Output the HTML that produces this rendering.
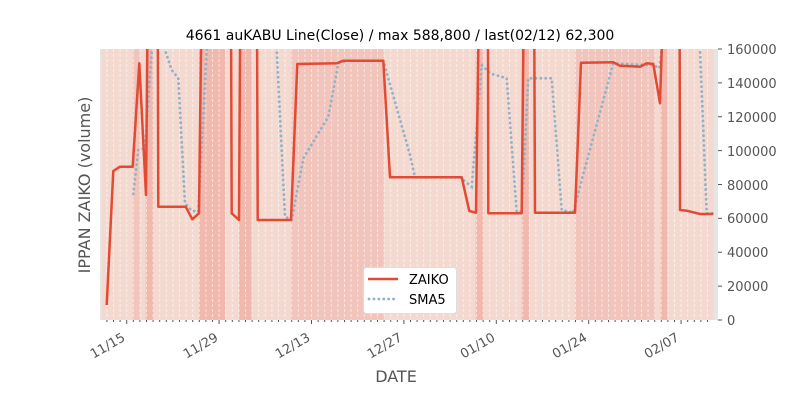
<!DOCTYPE html>
<html><head><meta charset="utf-8"><style>
body{margin:0;background:#fff;}
svg{font-family:"DejaVu Sans","Liberation Sans",sans-serif;}
</style></head><body>
<svg width="800" height="400" viewBox="0 0 800 400" xmlns="http://www.w3.org/2000/svg">
<defs><clipPath id="c"><rect x="100" y="49" width="618" height="271"/></clipPath></defs>
<rect x="100" y="49" width="618" height="271" fill="#e5e5e5"/>
<rect x="101.5" y="49" width="612" height="271" fill="#f4d9d1"/>
<g fill="#f2c5bc">
<rect x="132.7" y="49" width="7.3" height="271"/>
<rect x="291" y="49" width="93" height="271"/>
<rect x="575" y="49" width="80" height="271"/>
</g>
<g fill="#f1b8ae">
<rect x="145.7" y="49" width="7.6" height="271"/>
<rect x="199" y="49" width="26" height="271"/>
<rect x="239" y="49" width="12.7" height="271"/>
<rect x="475.7" y="49" width="7.6" height="271"/>
<rect x="521.7" y="49" width="7.3" height="271"/>
<rect x="660.7" y="49" width="6.6" height="271"/>
</g>
<g id="grid" stroke="#fff" stroke-opacity="0.55" stroke-width="1" stroke-dasharray="3,2"></g>
<g clip-path="url(#c)" fill="none">
<polyline stroke="#8fb2c9" stroke-width="2.8" stroke-dasharray="0.1,4.8" stroke-linecap="round" points="133.3,194 138.3,150 145,148.3 151.7,50 153,-300 163,-300 165,50 171.7,70 178.3,78.3 185,203.3 191.7,210.7 198.3,211.7 206.7,50 208,-300 275,-300 276.7,50 285,216.7 291.7,220 303.3,158.3 328.3,116.7 338.3,63.3 348.3,60.7 383.3,60.7 410,155 415,177.3 460,177.3 471.7,186.7 481.7,65 490,73.3 506.7,78.3 516.7,211.7 521.7,211.7 528.3,78.3 551.7,78.3 561.7,210 573.3,212.7 581.7,180 613.3,63.3 643.3,65 653.3,65 659.3,68.3 661.7,50 663,-300 698,-300 700,50 706.7,213.3 713.3,213.3"/>
<polyline stroke="#e24a33" stroke-width="2.5" stroke-linejoin="round" points="106.7,305 113.3,171 120,166.7 132.7,166.7 139.3,63.3 146,195 147.3,50 148,-300 157,-300 158.3,206.7 185.7,206.7 192.3,219.3 199,213.3 201,50 202,-300 230,-300 231.7,213.3 239,220 240,50 241,-300 256,-300 257.7,220 291,220 297.3,64 336.7,63.3 343.3,60.7 383.3,60.7 390,177.3 461.7,177.3 469.3,211 476,212.7 478.3,50 479,-300 487.5,-300 488.3,213.3 521.7,213.3 523.3,50 524,-300 533,-300 535,212.7 575,212.7 581,62.7 613.3,62.3 620,65.7 640,66.7 646.7,63.3 653.3,64 660,103.3 661.7,50 662,-300 679,-300 680,210 686.7,210.7 700,214 713.3,214"/>
</g>
<g id="ticks" stroke="#555" stroke-width="1"></g>
<g fill="#555" font-size="13" text-anchor="start">
<text x="727" y="54">160000</text>
<text x="727" y="88">140000</text>
<text x="727" y="122">120000</text>
<text x="727" y="156">100000</text>
<text x="727" y="190">80000</text>
<text x="727" y="223">60000</text>
<text x="727" y="257">40000</text>
<text x="727" y="291">20000</text>
<text x="727" y="325">0</text>
</g>
<g fill="#555" font-size="13" text-anchor="end">
<text transform="translate(126,340) rotate(-30)">11/15</text>
<text transform="translate(219,340) rotate(-30)">11/29</text>
<text transform="translate(311,340) rotate(-30)">12/13</text>
<text transform="translate(403,340) rotate(-30)">12/27</text>
<text transform="translate(496,340) rotate(-30)">01/10</text>
<text transform="translate(588,340) rotate(-30)">01/24</text>
<text transform="translate(680,340) rotate(-30)">02/07</text>
</g>
<text x="400" y="40" font-size="14" text-anchor="middle" fill="#000">4661 auKABU Line(Close) / max 588,800 / last(02/12) 62,300</text>
<text x="396" y="382" font-size="16" text-anchor="middle" fill="#555">DATE</text>
<text transform="translate(90,185) rotate(-90)" font-size="16" text-anchor="middle" fill="#555">IPPAN ZAIKO (volume)</text>
<rect x="363.5" y="267.5" width="93" height="46" rx="3" fill="#fff" stroke="#ddd"/>
<line x1="368" y1="279" x2="398" y2="279" stroke="#e24a33" stroke-width="2.5"/>
<line x1="369" y1="299" x2="398" y2="299" stroke="#8fb2c9" stroke-width="2.8" stroke-dasharray="0.1,4.8" stroke-linecap="round"/>
<text x="409" y="284" font-size="13" fill="#000">ZAIKO</text>
<text x="409" y="304" font-size="13" fill="#000">SMA5</text>
<script>
(function(){
var g=document.getElementById('grid'),t=document.getElementById('ticks'),ns='http://www.w3.org/2000/svg';
function L(p,x1,y1,x2,y2){var l=document.createElementNS(ns,'line');l.setAttribute('x1',x1);l.setAttribute('y1',y1);l.setAttribute('x2',x2);l.setAttribute('y2',y2);p.appendChild(l);}
var d=6.6;
for(var i=-4;i<=89;i++){var x=126.7+i*d;if(x<101||x>714)continue;L(g,x,49,x,320);var maj=(i%14==0);L(t,x,320,x,maj?324:322);}
for(var k=0;k<=8;k++){var y=320-k*33.875;L(t,718,y,722,y);}
})();
</script>
</svg>
</body></html>
